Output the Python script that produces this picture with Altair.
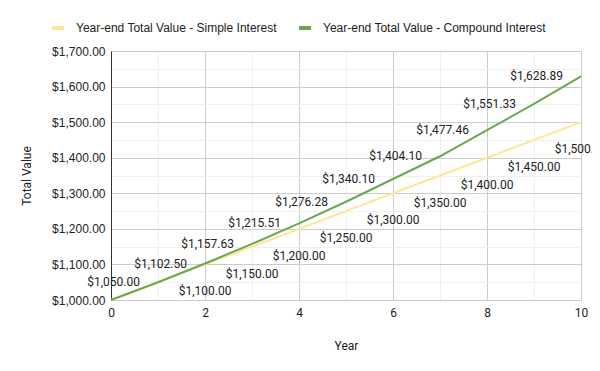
import altair as alt
import pandas as pd

years = [0, 1, 2, 3, 4, 5, 6, 7, 8, 9, 10]
simple = [1000.00, 1050.00, 1100.00, 1150.00, 1200.00, 1250.00, 1300.00, 1350.00, 1400.00, 1450.00, 1500.00]
compound = [1000.00, 1050.00, 1102.50, 1157.63, 1215.51, 1276.28, 1340.10, 1404.10, 1477.46, 1551.33, 1628.89]

S_NAME = "Year-end Total Value - Simple Interest"
C_NAME = "Year-end Total Value - Compound Interest"

rows = []
for y, v in zip(years, simple):
    rows.append({"year": y, "value": v, "series": S_NAME})
for y, v in zip(years, compound):
    rows.append({"year": y, "value": v, "series": C_NAME})
df = pd.DataFrame(rows)

x_ticks = list(range(0, 11))
y_ticks = list(range(1000, 1701, 50))

x_axis = alt.Axis(
    values=x_ticks,
    title="Year",
    labelExpr="datum.value % 2 == 0 ? datum.label : ''",
    gridColor={"condition": {"test": "datum.value % 2 == 0", "value": "#cccccc"}, "value": "#efefef"},
    domain=False,
    ticks=False,
    labelOverlap=False,
    labelFlush=False,
    labelPadding=7,
    titlePadding=22,
    labelFont="Roboto",
    labelFontSize=12,
    labelColor="#222222",
    titleFont="Roboto",
    titleFontSize=12,
    titleFontWeight="normal",
    titleColor="#222222",
)
y_axis = alt.Axis(
    values=y_ticks,
    title="Total Value",
    format="$,.2f",
    labelExpr="datum.value % 100 == 0 ? datum.label : ''",
    gridColor={"condition": {"test": "datum.value % 100 == 0", "value": "#cccccc"}, "value": "#efefef"},
    domain=True,
    domainColor="#333333",
    ticks=False,
    labelOverlap=False,
    labelFlush=False,
    labelPadding=6,
    titlePadding=18,
    labelFont="Liberation Sans",
    labelFontSize=12,
    labelColor="#222222",
    titleFont="Roboto",
    titleFontSize=12,
    titleFontWeight="normal",
    titleColor="#222222",
)

x_enc = alt.X("year:Q", scale=alt.Scale(domain=[0, 10], nice=False), axis=x_axis)
y_enc = alt.Y("value:Q", scale=alt.Scale(domain=[1000, 1700], nice=False), axis=y_axis)

color_enc = alt.Color(
    "series:N",
    scale=alt.Scale(domain=[S_NAME, C_NAME], range=["#ffe599", "#6aa84f"]),
    legend=alt.Legend(
        title=None,
        orient="none",
        legendX=-61,
        legendY=-31,
        direction="horizontal",
        symbolType="stroke",
        symbolStrokeWidth=4,
        symbolSize=144,
        labelFont="Liberation Sans",
        labelFontSize=12,
        labelColor="#222222",
        labelLimit=0,
        columnPadding=14,
        labelOffset=10,
    ),
)

base = alt.Chart(df)

line_simple = base.transform_filter(alt.datum.series == S_NAME).mark_line(strokeWidth=2).encode(
    x=x_enc, y=y_enc, color=color_enc
)
line_comp = base.transform_filter(alt.datum.series == C_NAME).mark_line(strokeWidth=2).encode(
    x=x_enc, y=y_enc, color=color_enc
)

text_simple = base.transform_filter(
    (alt.datum.series == S_NAME) & (alt.datum.year >= 2)
).mark_text(align="center", baseline="middle", dy=27, font="Roboto", fontSize=12, color="#222222").encode(
    x=x_enc, y=y_enc, text=alt.Text("value:Q", format="$,.2f")
)
text_comp = base.transform_filter(
    (alt.datum.series == C_NAME) & (alt.datum.year >= 1)
).mark_text(align="right", baseline="middle", dx=-18, font="Roboto", fontSize=12, color="#222222").encode(
    x=x_enc, y=y_enc, text=alt.Text("value:Q", format="$,.2f")
)

chart = alt.layer(line_simple, line_comp, text_simple, text_comp).properties(
    width=470,
    height=249,
    autosize=alt.AutoSizeParams(type="none"),
    padding={"left": 103, "top": 43, "right": 11, "bottom": 63},
    background="white",
).configure_view(strokeWidth=0).configure_axis(labelOverlap=False)

chart.save("out.html", embed_options={"renderer": "svg", "actions": False})
